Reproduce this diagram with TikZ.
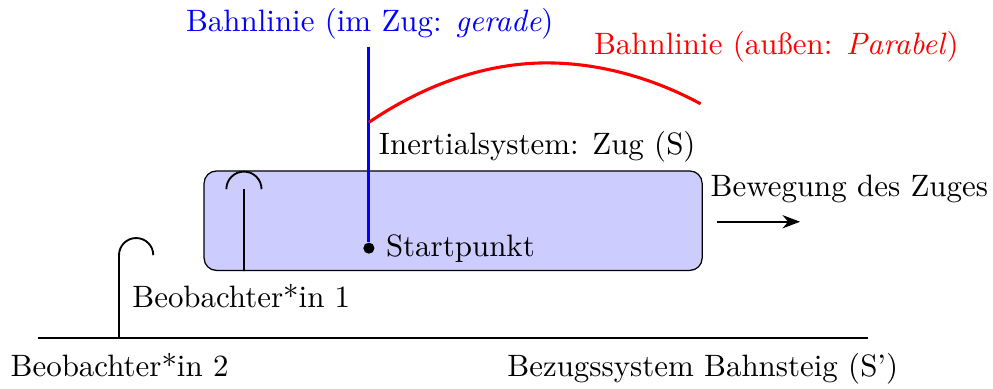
\documentclass[tikz,border=0pt]{standalone}
\usepackage{amsmath,amssymb}
\usepackage{tikz}
\usetikzlibrary{arrows.meta,positioning,calc}
\definecolor{zugfill}{HTML}{CCCCFF}

\begin{document}
\begin{tikzpicture}[
  person/.style={semithick},
  bahn/.style={line width=1pt},
  punkt/.style={circle,fill,inner sep=0,minimum size=3.6pt}]
  \useasboundingbox (-0.432,-0.58) rectangle (10.852,3.84);
  % Bahnsteig
  \coordinate (s0) at (0,0);
  \coordinate (s1) at (9.43,0);
  \draw[thick] (s0) -- (s1);
  \node[anchor=base west] (bezug) at (5.21,-0.443) {Bezugssystem Bahnsteig (S')};
  % Zug
  \node[draw,fill=zugfill,rounded corners=4pt,inner sep=0,anchor=south west,
    minimum width=5.66cm,minimum height=1.13cm] (zug) at (1.88,0.76) {};
  \node[anchor=base west] (bew) at (7.52,1.61) {Bewegung des Zuges};
  \coordinate (v0) at (7.72,1.32);
  \coordinate (v1) at (8.66,1.32);
  \draw[semithick,-{Stealth}] (v0) -- (v1);
  % Beobachter*innen
  \coordinate (f1) at (2.34,0.76);
  \coordinate (k1) at (2.34,1.69);
  \draw[person] (f1) -- (k1) ($(k1)+(-0.2,0)$) arc[start angle=180,end angle=0,radius=0.2];
  \coordinate (f2) at (0.92,0);
  \coordinate (k2) at (0.92,0.94);
  \draw[person] (f2) -- (k2) arc[start angle=180,end angle=0,radius=0.195];
  \node[anchor=base west] (beo1) at (0.948,0.34) {Beobachter*in 1};
  \node[anchor=base west] (beo2) at (-0.435,-0.443) {Beobachter*in 2};
  % Bahnlinien
  \node[punkt] (start) at (3.76,1.02) {};
  \node[right=0pt of start] {Startpunkt};
  \coordinate (g0) at (3.76,3.31);
  \draw[bahn,blue] (g0) -- (start);
  \node[blue,anchor=base] (gerade) at (3.77,3.48) {Bahnlinie (im Zug: \textit{gerade})};
  \coordinate (p0) at (3.76,2.45);
  \coordinate (p1) at (7.53,2.66);
  \draw[bahn,red] (p0) parabola bend (5.78,3.125) (p1);
  \node[red,anchor=base] (parabel) at (8.39,3.216) {Bahnlinie (au\ss en: \textit{Parabel})};
  \node[anchor=base west] (inert) at (3.75,2.08) {Inertialsystem: Zug (S)};
\end{tikzpicture}
\end{document}
